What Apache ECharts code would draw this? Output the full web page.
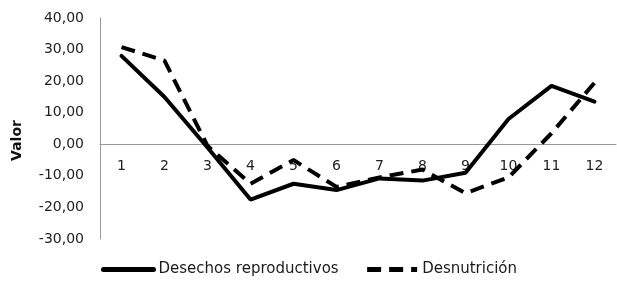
<!DOCTYPE html>
<html>
<head>
<meta charset="utf-8">
<script src="https://cdn.jsdelivr.net/npm/echarts@6/dist/echarts.min.js"></script>
<style>
  html, body { margin: 0; padding: 0; background: #fff; }
  #chart { width: 617px; height: 285px; }
</style>
</head>
<body>
<div id="chart"></div>
<script>
  const categories = ["1", "2", "3", "4", "5", "6", "7", "8", "9", "10", "11", "12"];
  const desechos = [28, 15, -1, -17.5, -12.5, -14.5, -10.8, -11.5, -9, 8, 18.5, 13.5];
  const desnutricion = [30.8, 26.5, -0.5, -12.5, -5, -13.5, -10.5, -8, -15.5, -10.5, 3.5, 19.5];

  const font = "DejaVu Sans";
  const myChart = echarts.init(document.getElementById("chart"));
  myChart.setOption({
    animation: false,
    grid: { left: 100, right: 1, top: 18, bottom: 46 },
    legend: {
      bottom: 3,
      left: 96,
      itemWidth: 50,
      itemHeight: 14,
      itemGap: 26,
      itemStyle: { opacity: 0 },
      lineStyle: { width: 5 },
      textStyle: { fontFamily: font, fontSize: 15, color: "#1a1a1a" },
      data: ["Desechos reproductivos", "Desnutrición"],
    },
    xAxis: {
      type: "category",
      data: categories,
      boundaryGap: true,
      axisLine: { onZero: true, lineStyle: { color: "#999", width: 1 } },
      axisTick: { show: false },
      // labels sit just under the zero line, like the original
      axisLabel: { fontFamily: font, fontSize: 14, color: "#222", margin: -80 },
    },
    yAxis: {
      type: "value",
      min: -30,
      max: 40,
      interval: 10,
      name: "Valor",
      nameLocation: "middle",
      nameGap: 76,
      nameTextStyle: { fontFamily: font, fontSize: 14, fontWeight: "bold", color: "#111", padding: [0, 0, 0, -24] },
      axisLine: { show: true, lineStyle: { color: "#999", width: 1 } },
      axisTick: { show: false },
      splitLine: { show: false },
      axisLabel: {
        fontFamily: font,
        fontSize: 14,
        color: "#222",
        margin: 16,
        formatter: (v) => v.toFixed(2).replace(".", ","),
      },
    },
    series: [
      {
        name: "Desechos reproductivos",
        type: "line",
        data: desechos,
        symbol: "none",
        lineStyle: { color: "#000", width: 4, cap: "round" },
        itemStyle: { color: "#000" },
      },
      {
        name: "Desnutrición",
        type: "line",
        data: desnutricion,
        symbol: "none",
        lineStyle: { color: "#000", width: 4, type: [14, 8] },
        itemStyle: { color: "#000" },
      },
    ],
  });
</script>
</body>
</html>
